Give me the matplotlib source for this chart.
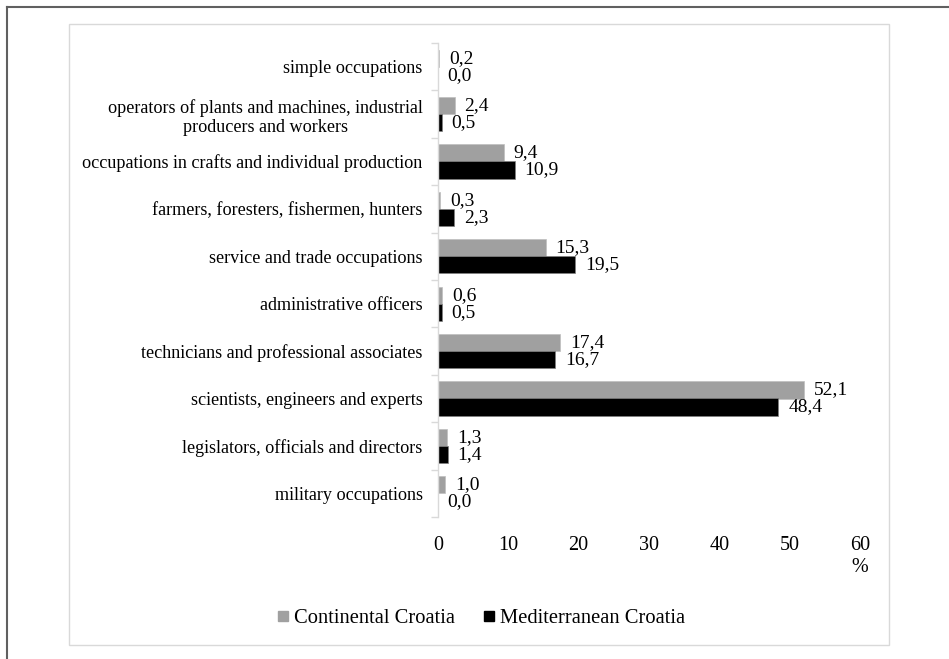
import numpy as np
import matplotlib
matplotlib.use("Agg")
import matplotlib.pyplot as plt
from matplotlib.lines import Line2D
from matplotlib.patches import Rectangle

plt.rcParams["font.family"] = ["Liberation Serif", "DejaVu Serif"]

# data, listed bottom to top as drawn
categories = [
    "military occupations",
    "legislators, officials and directors",
    "scientists, engineers and experts",
    "technicians and professional associates",
    "administrative officers",
    "service and trade occupations",
    "farmers, foresters, fishermen, hunters",
    "occupations in crafts and individual production",
    "operators of plants and machines, industrial\nproducers and workers",
    "simple occupations",
]
continental = [1.0, 1.3, 52.1, 17.4, 0.6, 15.3, 0.3, 9.4, 2.4, 0.2]
mediterranean = [0.0, 1.4, 48.4, 16.7, 0.5, 19.5, 2.3, 10.9, 0.5, 0.0]
series_names = ["Continental Croatia", "Mediterranean Croatia"]
x_ticks = [0, 10, 20, 30, 40, 50, 60]

GRAY = "#a0a0a0"
BLACK = "#000000"
FRAME = "#d9d9d9"

fig = plt.figure(figsize=(9.49, 6.59), dpi=100)
ax = fig.add_axes([438 / 949, 1 - 517 / 659, (860 - 438) / 949, (517 - 43) / 659])

y = np.arange(len(categories))
h = 0.36
b1 = ax.barh(y + h / 2, continental, height=h, color=GRAY, edgecolor="#bfbfbf", linewidth=0.5)
b2 = ax.barh(y - h / 2, mediterranean, height=h, color=BLACK, edgecolor="#7f7f7f", linewidth=0.5)

fmt = lambda v: f"{v:.1f}".replace(".", ",")
ax.bar_label(b1, labels=[fmt(v) for v in continental], padding=7, fontsize=14)
ax.bar_label(b2, labels=[fmt(v) for v in mediterranean], padding=7, fontsize=14)

ax.set_xlim(0, 60)
ax.set_ylim(-0.5, len(categories) - 0.5)
ax.set_xticks(x_ticks)
ax.set_xticklabels([str(t) for t in x_ticks], fontsize=14.5)
ax.tick_params(axis="x", length=0, pad=14)

ax.set_yticks(y)
ax.set_yticklabels(categories, fontsize=13.1, multialignment="center")
ax.tick_params(axis="y", which="major", length=0, pad=11)
ax.set_yticks(np.arange(-0.5, len(categories), 1.0), minor=True)
ax.tick_params(axis="y", which="minor", length=5, color=FRAME, width=1)

for side in ["top", "right", "bottom"]:
    ax.spines[side].set_visible(False)
ax.spines["left"].set_color(FRAME)
ax.spines["left"].set_linewidth(1)

fig.text(860 / 949, 1 - 568 / 659, "%", ha="center", va="center", fontsize=14.5)

handles = [
    Line2D([], [], marker="s", linestyle="none", markersize=7.5, color=GRAY),
    Line2D([], [], marker="s", linestyle="none", markersize=7.5, color=BLACK),
]
fig.legend(handles, series_names, loc="center", bbox_to_anchor=(481 / 949, 1 - 618 / 659),
           ncol=2, frameon=False, fontsize=14.8, handlelength=0.6, handletextpad=0.2,
           columnspacing=1.4)

# chart area frame and outer border
fig.patches.append(Rectangle((69 / 949, 1 - 645 / 659), (889 - 69) / 949, (645 - 24) / 659,
                             transform=fig.transFigure, fill=False, edgecolor=FRAME, linewidth=1))
fig.lines.append(Line2D([6.5 / 949, 6.5 / 949], [0, 1 - 6.5 / 659], transform=fig.transFigure,
                        color="#606060", linewidth=1.5))
fig.lines.append(Line2D([6.5 / 949, 1], [1 - 6.5 / 659, 1 - 6.5 / 659], transform=fig.transFigure,
                        color="#606060", linewidth=1.5))

plt.savefig("out.png", dpi=100)
plt.close()
